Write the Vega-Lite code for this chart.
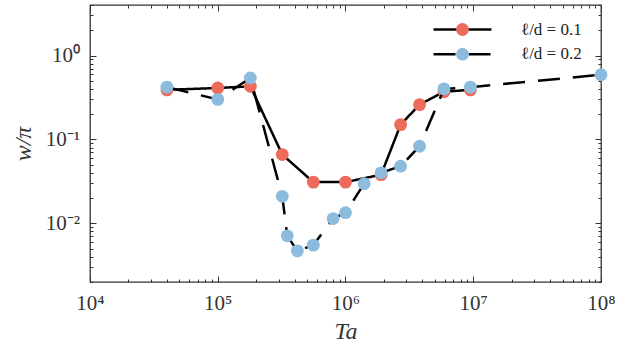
{
  "$schema": "https://vega.github.io/schema/vega-lite/v6.json",
  "width": 511,
  "height": 277,
  "autosize": "none",
  "padding": {"left": 90, "top": 5, "right": 22, "bottom": 66},
  "background": "white",
  "config": {
    "view": {"stroke": "#333333", "strokeWidth": 1.3},
    "axis": {
      "domain": false,
      "grid": false,
      "tickColor": "#333333",
      "tickWidth": 1,
      "labelFont": "Liberation Serif",
      "labelFontSize": 21,
      "labelColor": "#333333",
      "labelFlush": false,
      "labelOverlap": false,
      "labelBound": false,
      "titleFont": "Liberation Serif",
      "titleFontSize": 24,
      "titleFontStyle": "italic",
      "titleFontWeight": "normal",
      "titleColor": "#333333"
    }
  },
  "data": {
    "values": [
      {"s": "ℓ/d = 0.1", "Ta": 40000, "w": 0.39},
      {"s": "ℓ/d = 0.1", "Ta": 100000, "w": 0.41},
      {"s": "ℓ/d = 0.1", "Ta": 180000, "w": 0.43},
      {"s": "ℓ/d = 0.1", "Ta": 320000, "w": 0.066},
      {"s": "ℓ/d = 0.1", "Ta": 560000, "w": 0.031},
      {"s": "ℓ/d = 0.1", "Ta": 1000000, "w": 0.031},
      {"s": "ℓ/d = 0.1", "Ta": 1900000, "w": 0.038},
      {"s": "ℓ/d = 0.1", "Ta": 2700000, "w": 0.15},
      {"s": "ℓ/d = 0.1", "Ta": 3800000, "w": 0.26},
      {"s": "ℓ/d = 0.1", "Ta": 5900000, "w": 0.37},
      {"s": "ℓ/d = 0.1", "Ta": 9500000, "w": 0.39},
      {"s": "ℓ/d = 0.2", "Ta": 40000, "w": 0.42},
      {"s": "ℓ/d = 0.2", "Ta": 100000, "w": 0.30},
      {"s": "ℓ/d = 0.2", "Ta": 180000, "w": 0.54},
      {"s": "ℓ/d = 0.2", "Ta": 320000, "w": 0.021},
      {"s": "ℓ/d = 0.2", "Ta": 350000, "w": 0.0071},
      {"s": "ℓ/d = 0.2", "Ta": 420000, "w": 0.0047},
      {"s": "ℓ/d = 0.2", "Ta": 560000, "w": 0.0055},
      {"s": "ℓ/d = 0.2", "Ta": 800000, "w": 0.0114},
      {"s": "ℓ/d = 0.2", "Ta": 1000000, "w": 0.0134},
      {"s": "ℓ/d = 0.2", "Ta": 1400000, "w": 0.0297},
      {"s": "ℓ/d = 0.2", "Ta": 1900000, "w": 0.040},
      {"s": "ℓ/d = 0.2", "Ta": 2700000, "w": 0.048},
      {"s": "ℓ/d = 0.2", "Ta": 3800000, "w": 0.083},
      {"s": "ℓ/d = 0.2", "Ta": 5900000, "w": 0.40},
      {"s": "ℓ/d = 0.2", "Ta": 9500000, "w": 0.42},
      {"s": "ℓ/d = 0.2", "Ta": 100000000, "w": 0.59}
    ]
  },
  "layer": [
    {
      "transform": [{"filter": {"field": "s", "equal": "ℓ/d = 0.1"}}],
      "mark": {"type": "line", "color": "black", "strokeWidth": 2.5},
      "encoding": {
        "x": {"field": "Ta", "type": "quantitative",
          "scale": {"type": "log", "domain": [10000, 100000000], "nice": false},
          "axis": {"orient": "bottom", "title": "Ta", "values": [10000, 100000, 1000000, 10000000, 100000000],
            "tickSize": -6, "labelPadding": 16.5, "titlePadding": 6,
            "labelAlign": "center", "labelBaseline": "top",
            "labelExpr": "'10' + ['⁰','¹','²','³','⁴','⁵','⁶','⁷','⁸','⁹'][round(log(datum.value)/LN10)]"}},
        "y": {"field": "w", "type": "quantitative",
          "scale": {"type": "log", "domain": [0.002, 4], "nice": false},
          "axis": {"orient": "left", "title": "w/π", "values": [0.01, 0.1, 1],
            "tickSize": -6, "labelPadding": 16.5, "titlePadding": 10,
            "labelAlign": "right", "labelBaseline": "middle",
            "labelExpr": "'10' + (round(log(datum.value)/LN10) < 0 ? '⁻' : '') + ['⁰','¹','²','³'][abs(round(log(datum.value)/LN10))]"}},
        "strokeDash": {"field": "s", "type": "nominal",
          "scale": {"range": [[1, 0], [22, 13]]},
          "legend": {"orient": "none", "legendX": 364, "legendY": 16, "title": null,
            "symbolType": "M-4,0H4", "symbolSize": 210, "symbolStrokeWidth": 2.5,
            "symbolStrokeColor": "black", "symbolFillColor": "transparent",
            "labelExpr": "''", "labelFontSize": 17, "zindex": 0, "rowPadding": 6.7}}
      }
    },
    {
      "transform": [{"filter": {"field": "s", "equal": "ℓ/d = 0.1"}}],
      "mark": {"type": "circle", "size": 165, "opacity": 1},
      "encoding": {
        "x": {"field": "Ta", "type": "quantitative",
          "axis": {"orient": "top", "title": null, "values": [10000, 100000, 1000000, 10000000, 100000000],
            "tickSize": -6, "labels": false}},
        "y": {"field": "w", "type": "quantitative",
          "axis": {"orient": "right", "title": null, "values": [0.01, 0.1, 1],
            "tickSize": -6, "labels": false}},
        "color": {"field": "s", "type": "nominal",
          "scale": {"domain": ["ℓ/d = 0.1", "ℓ/d = 0.2"], "range": ["#EC6B5B", "#8DBBDE"]},
          "legend": {"orient": "none", "legendX": 364, "legendY": 16, "title": null,
            "symbolType": "circle", "symbolSize": 165, "symbolStrokeWidth": 0, "symbolOpacity": 1,
            "labelFont": "Liberation Serif", "labelFontSize": 17, "labelColor": "#222222",
            "labelOffset": 50, "rowPadding": 6.7, "zindex": 1}}
      }
    },
    {
      "transform": [{"filter": {"field": "s", "equal": "ℓ/d = 0.2"}}],
      "mark": {"type": "line", "color": "black", "strokeWidth": 2.5},
      "encoding": {
        "x": {"field": "Ta", "type": "quantitative",
          "axis": {"orient": "bottom", "title": null,
            "values": [20000, 30000, 40000, 50000, 60000, 70000, 80000, 90000, 200000, 300000, 400000, 500000, 600000, 700000, 800000, 900000, 2000000, 3000000, 4000000, 5000000, 6000000, 7000000, 8000000, 9000000, 20000000, 30000000, 40000000, 50000000, 60000000, 70000000, 80000000, 90000000],
            "tickSize": -3, "labels": false}},
        "y": {"field": "w", "type": "quantitative",
          "axis": {"orient": "left", "title": null,
            "values": [0.002, 0.003, 0.004, 0.005, 0.006, 0.007, 0.008, 0.009, 0.02, 0.03, 0.04, 0.05, 0.06, 0.07, 0.08, 0.09, 0.2, 0.3, 0.4, 0.5, 0.6, 0.7, 0.8, 0.9, 2, 3, 4],
            "tickSize": -3, "labels": false}},
        "strokeDash": {"field": "s", "type": "nominal"}
      }
    },
    {
      "transform": [{"filter": {"field": "s", "equal": "ℓ/d = 0.2"}}],
      "mark": {"type": "circle", "size": 165, "opacity": 1},
      "encoding": {
        "x": {"field": "Ta", "type": "quantitative",
          "axis": {"orient": "top", "title": null,
            "values": [20000, 30000, 40000, 50000, 60000, 70000, 80000, 90000, 200000, 300000, 400000, 500000, 600000, 700000, 800000, 900000, 2000000, 3000000, 4000000, 5000000, 6000000, 7000000, 8000000, 9000000, 20000000, 30000000, 40000000, 50000000, 60000000, 70000000, 80000000, 90000000],
            "tickSize": -3, "labels": false}},
        "y": {"field": "w", "type": "quantitative",
          "axis": {"orient": "right", "title": null,
            "values": [0.002, 0.003, 0.004, 0.005, 0.006, 0.007, 0.008, 0.009, 0.02, 0.03, 0.04, 0.05, 0.06, 0.07, 0.08, 0.09, 0.2, 0.3, 0.4, 0.5, 0.6, 0.7, 0.8, 0.9, 2, 3, 4],
            "tickSize": -3, "labels": false}},
        "color": {"field": "s", "type": "nominal"}
      }
    }
  ],
  "resolve": {"axis": {"x": "independent", "y": "independent"}}
}
